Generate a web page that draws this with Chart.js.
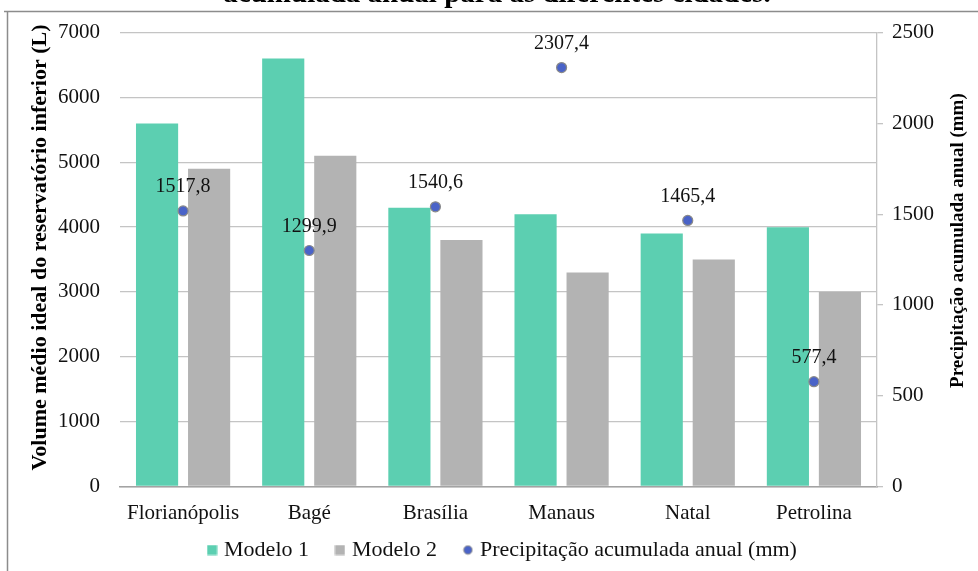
<!DOCTYPE html>
<html lang="pt-BR">
<head>
<meta charset="utf-8">
<title>Volume médio ideal do reservatório inferior e precipitação acumulada anual</title>
<script src="https://cdn.jsdelivr.net/npm/chart.js@4.4.1/dist/chart.umd.min.js"></script>
<style>
  html, body { margin: 0; padding: 0; background: #ffffff; }
  #wrap { position: relative; width: 978px; height: 571px; overflow: hidden; }
  #caption {
    position: absolute; left: 8px; width: 978px; top: -22px;
    text-align: center; font: bold 29px "Liberation Serif", "Times New Roman", serif;
    color: #000; white-space: nowrap; line-height: 28px;
  }
  canvas { position: absolute; left: 0; top: 0; }
</style>
</head>
<body>
<div id="wrap">
  <canvas id="chart" width="978" height="571"></canvas>
  <div id="caption">acumulada anual para as diferentes cidades.</div>
</div>
<script>
// Cidades analisadas
const cidades = ['Florianópolis', 'Bagé', 'Brasília', 'Manaus', 'Natal', 'Petrolina'];
// Volume médio ideal do reservatório inferior (L)
const modelo1 = [5600, 6600, 4300, 4200, 3900, 4000];
const modelo2 = [4900, 5100, 3800, 3300, 3500, 3000];
// Precipitação acumulada anual (mm)
const precipitacao = [1517.8, 1299.9, 1540.6, 2307.4, 1465.4, 577.4];

const tituloEsquerdo = 'Volume médio ideal do reservatório inferior (L)';
const tituloDireito = 'Precipitação acumulada anual (mm)';

const SERIF = '"Liberation Serif", "Times New Roman", serif';
const VERDE = '#5ccfb1';
const CINZA = '#b3b3b3';
const AZUL = '#4a63c8';

// Marcadores pequenos usados na legenda
function marcador(desenho) {
  const c = document.createElement('canvas');
  c.width = 11; c.height = 11;
  desenho(c.getContext('2d'));
  return c;
}
const quadradoVerde = marcador(ctx => { ctx.fillStyle = VERDE; ctx.fillRect(0.5, 0.5, 10, 10); });
const quadradoCinza = marcador(ctx => { ctx.fillStyle = CINZA; ctx.fillRect(0.5, 0.5, 10, 10); });
const pontoAzul = marcador(ctx => {
  ctx.beginPath(); ctx.arc(5.5, 5.5, 4.2, 0, Math.PI * 2);
  ctx.fillStyle = AZUL; ctx.fill();
  ctx.lineWidth = 1; ctx.strokeStyle = '#8a8a8a'; ctx.stroke();
});
const marcadoresLegenda = [quadradoVerde, quadradoCinza, pontoAzul];

// Moldura em volta do gráfico
const moldura = {
  id: 'moldura',
  beforeDraw(chart) {
    const ctx = chart.ctx;
    ctx.save();
    ctx.strokeStyle = '#8c8c8c';
    ctx.lineWidth = 1.5;
    ctx.beginPath();
    ctx.moveTo(4, 11.5); ctx.lineTo(978, 11.5);
    ctx.moveTo(7.5, 11.5); ctx.lineTo(7.5, 571);
    ctx.stroke();
    ctx.restore();
  }
};

// Títulos dos eixos verticais, ambos lidos de baixo para cima
const titulosEixos = {
  id: 'titulosEixos',
  afterDraw(chart) {
    const ctx = chart.ctx;
    const area = chart.chartArea;
    const meio = (area.top + area.bottom) / 2;
    ctx.save();
    ctx.fillStyle = '#000';
    ctx.textAlign = 'center';
    ctx.textBaseline = 'middle';
    [[40, meio - 12, 22, tituloEsquerdo], [958, meio - 19, 19, tituloDireito]].forEach(([x, y, tam, txt]) => {
      ctx.save();
      ctx.font = 'bold ' + tam + 'px ' + SERIF;
      ctx.translate(x, y);
      ctx.rotate(-Math.PI / 2);
      ctx.fillText(txt, 0, 0);
      ctx.restore();
    });
    ctx.restore();
  }
};

// Rótulos com o valor da precipitação acima de cada ponto
const rotulosPrecipitacao = {
  id: 'rotulosPrecipitacao',
  afterDatasetsDraw(chart) {
    const ctx = chart.ctx;
    const meta = chart.getDatasetMeta(2);
    ctx.save();
    ctx.font = '20px ' + SERIF;
    ctx.fillStyle = '#111';
    ctx.textAlign = 'center';
    ctx.textBaseline = 'middle';
    meta.data.forEach((pt, i) => {
      const txt = precipitacao[i].toFixed(1).replace('.', ',');
      ctx.fillText(txt, pt.x, pt.y - 24);
    });
    ctx.restore();
  }
};

const semSeparador = v => String(v);

new Chart(document.getElementById('chart'), {
  data: {
    labels: cidades,
    datasets: [
      {
        type: 'bar', label: 'Modelo 1', data: modelo1, yAxisID: 'y',
        backgroundColor: VERDE, order: 1,
        barPercentage: 0.81, categoryPercentage: 0.825
      },
      {
        type: 'bar', label: 'Modelo 2', data: modelo2, yAxisID: 'y',
        backgroundColor: CINZA, order: 1,
        barPercentage: 0.81, categoryPercentage: 0.825
      },
      {
        type: 'line', label: 'Precipitação acumulada anual (mm)', data: precipitacao,
        yAxisID: 'y1', showLine: false, order: 0,
        pointRadius: 5, pointHoverRadius: 5,
        pointBackgroundColor: AZUL, pointBorderColor: '#8a8a8a', pointBorderWidth: 1.2,
        backgroundColor: AZUL, borderColor: '#8a8a8a'
      }
    ]
  },
  options: {
    responsive: false,
    animation: false,
    devicePixelRatio: 1,
    layout: { padding: { top: 32, left: 30, right: 0, bottom: 0 } },
    plugins: {
      tooltip: { enabled: false },
      legend: {
        position: 'bottom',
        labels: {
          usePointStyle: true,
          boxWidth: 2,
          boxHeight: 11,
          padding: 30,
          color: '#111',
          font: { family: SERIF, size: 22 },
          sort: (a, b) => a.datasetIndex - b.datasetIndex,
          generateLabels(chart) {
            const itens = Chart.defaults.plugins.legend.labels.generateLabels(chart);
            itens.forEach(it => { it.pointStyle = marcadoresLegenda[it.datasetIndex]; it.lineWidth = 0; });
            return itens;
          }
        }
      }
    },
    scales: {
      x: {
        type: 'category',
        offset: true,
        grid: { display: false, drawTicks: false },
        border: { display: true, color: '#a3a3a3', width: 1.5 },
        ticks: { color: '#111', font: { family: SERIF, size: 21 }, padding: 14, maxRotation: 0 },
        afterFit(scale) {
          scale.height = 22.5;
          // os nomes das cidades podem ultrapassar a faixa do eixo
          scale._computeLabelArea = () => null;
        }
      },
      y: {
        position: 'left',
        min: 0, max: 7000,
        ticks: { stepSize: 1000, color: '#111', font: { family: SERIF, size: 21 }, padding: 20, callback: semSeparador },
        grid: { color: '#c4c4c4', lineWidth: 1.3, drawTicks: false },
        border: { display: false },
        afterFit(scale) { scale.width = 90; }
      },
      y1: {
        position: 'right',
        min: 0, max: 2500,
        ticks: { stepSize: 500, color: '#111', font: { family: SERIF, size: 21 }, padding: 9, callback: semSeparador },
        grid: { drawOnChartArea: false, drawTicks: true, tickLength: 6, color: '#c4c4c4', lineWidth: 1.3 },
        border: { display: true, color: '#c4c4c4', width: 1.3 },
        afterFit(scale) { scale.width = 101; }
      }
    }
  },
  plugins: [moldura, rotulosPrecipitacao, titulosEixos]
});
</script>
</body>
</html>
